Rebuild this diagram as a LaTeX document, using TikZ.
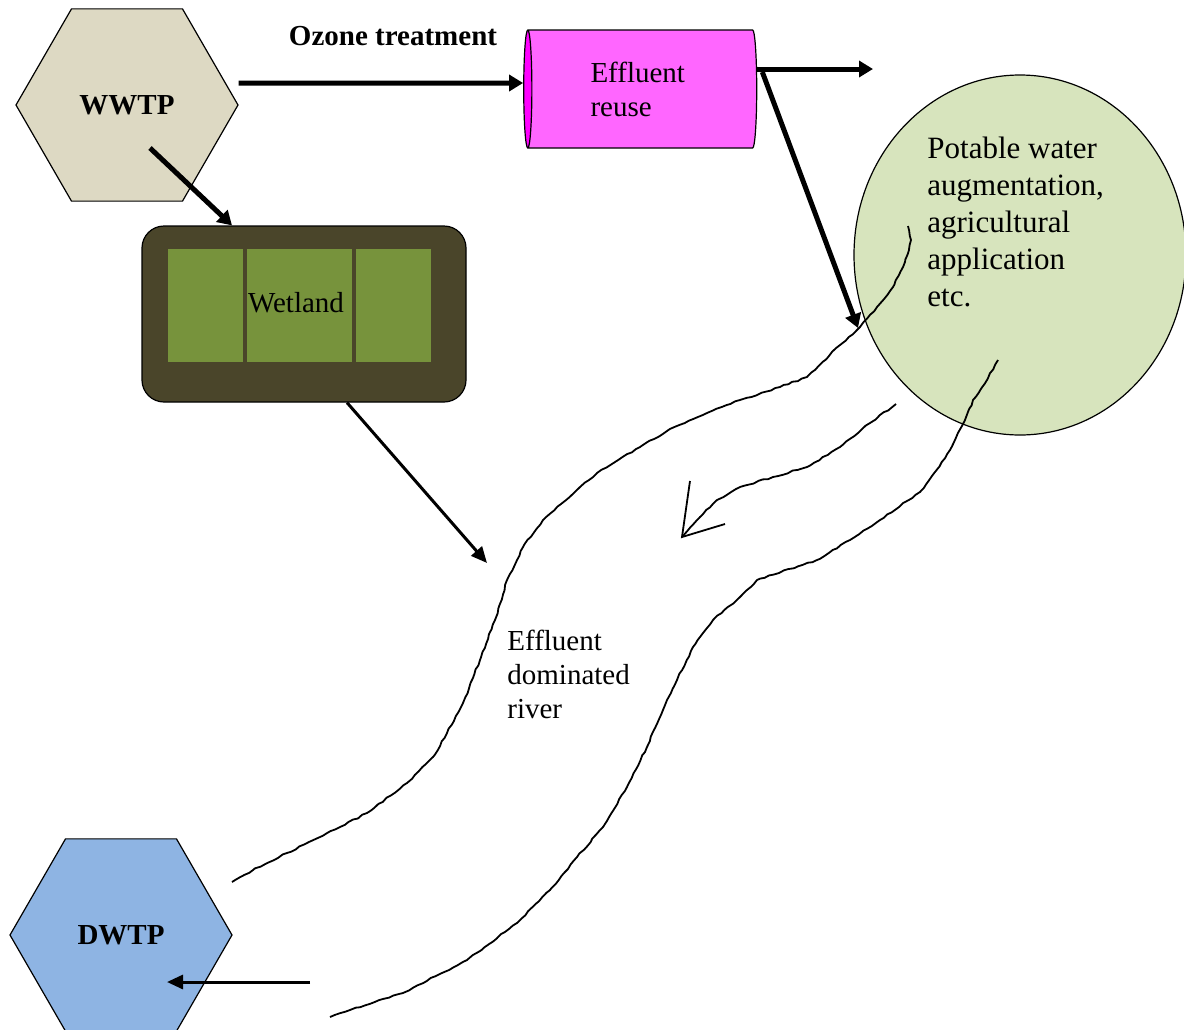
\documentclass[tikz,border=0pt]{standalone}
\usepackage{fontspec}
\setmainfont{Liberation Serif}
\usetikzlibrary{shapes.geometric,arrows.meta,calc,decorations.pathmorphing}
\definecolor{wwtpfill}{HTML}{DDD9C3}
\definecolor{dwtpfill}{HTML}{8EB4E3}
\definecolor{reusebody}{HTML}{FF66FF}
\definecolor{reuseend}{HTML}{FF00FF}
\definecolor{wetdark}{HTML}{4A452A}
\definecolor{wetgreen}{HTML}{77933C}
\definecolor{potfill}{HTML}{D7E4BD}
\tikzset{plant/.style={draw,semithick,regular polygon,regular polygon sides=6,minimum size=111pt,inner sep=0pt,font=\bfseries\fontsize{14.5}{17}\selectfont},
  fat/.style={line width=2.5pt,-{Triangle[length=7pt,width=8pt]}},
  thin/.style={line width=1.5pt,-{Triangle[length=8pt,width=7pt]}},
  bank/.style={line width=0.9pt,line join=round,decorate,decoration={random steps,segment length=2.5pt,amplitude=0.35pt}}}

\begin{document}
\begin{tikzpicture}[x=0.5pt,y=-0.5pt,font=\fontsize{14.5}{17}\selectfont]
          \useasboundingbox (0,0) rectangle (1184,1029);

          % treatment plants
          \node (ww) [plant,fill=wwtpfill] at (127,105) {WWTP};
          \node (dw) [plant,fill=dwtpfill] at (121,935) {DWTP};

          % reuse tank and potable water
          \node (er) [cylinder,draw,semithick,shape border rotate=180,aspect=0.12,minimum width=59pt,minimum height=116.5pt,
            cylinder uses custom fill,cylinder body fill=reusebody,cylinder end fill=reuseend,align=left,text width=53pt] at (643.5,89) {Effluent\\reuse};
          \node (pw) [ellipse,draw,semithick,fill=potfill,minimum width=166pt,minimum height=180pt] at (1020,255) {};
          \node (pwt) [anchor=north west,align=left,inner sep=0pt,font=\fontsize{15.5}{18.5}\selectfont] at (927,137)
            {Potable water\\augmentation,\\agricultural\\application\\etc.};

          % wetland
          \node (wl) [draw,semithick,fill=wetdark,rounded corners=11pt,minimum width=162pt,minimum height=88pt] at (304,314) {};
          \foreach \a/\b in {168/243, 247/352, 356/431}
            \fill[wetgreen] (\a,249) rectangle (\b,362);
          \node (wlt) at (296,303) {Wetland};

          % river banks
          \pgfmathsetseed{7}
          \draw[bank] (908,226) -- (911,240) -- (905,262) -- (893,287) -- (877,307) -- (860,327) -- (840,345) -- (807,377)
            -- (780,387) -- (740,400) -- (707,413) -- (667,431) -- (640,447) -- (597,473) -- (580,487) -- (543,520) -- (523,547)
            -- (507,580) -- (495,620) -- (480,660) -- (463,703) -- (447,733) -- (433,757) -- (407,783) -- (367,813) -- (340,827)
            -- (287,853) -- (253,870) -- (232,882);
          \draw[bank] (998,360) -- (987,380) -- (973,400) -- (965,420) -- (950,450) -- (935,472) -- (920,492) -- (880,520)
            -- (850,540) -- (817,560) -- (757,580) -- (740,597) -- (713,620) -- (693,647) -- (677,680) -- (667,700) -- (647,747)
            -- (627,787) -- (603,827) -- (577,857) -- (550,890) -- (517,923) -- (467,960) -- (403,993) -- (350,1010) -- (330,1017);
          \node (rvt) [anchor=north west,align=left,inner sep=0pt] at (507,630) {Effluent\\dominated\\river};

          % flow direction
          \coordinate (tip) at (682,537);
          \draw[bank] (896,404) -- (870,423) -- (840,447) -- (807,467) -- (773,477) -- (740,487) -- (717,500) -- (700,517) -- (tip);
          \draw[line width=0.9pt] (690,481) -- (tip) -- (725,524);

          % arrows
          \coordinate (out) at (873,69);
          \coordinate (rv) at (858,328);
          \coordinate (ri) at (487,563);
          \coordinate (dwin) at (310,982);
          \draw[fat] ($(ww.east)+(0,-22)$) -- ($(er.west)+(0,-6)$);
          \node (oz) [font=\bfseries\fontsize{14.5}{17}\selectfont] at (393,36) {Ozone treatment};
          \draw[fat] ($(er.east)+(0,-20)$) -- (out);
          \draw[fat] ($(er.east)+(5,-17)$) -- (rv);
          \draw[fat] ($(ww.center)+(23,43)$) -- ($(wl.north)+(-72,0)$);
          \draw[thin] ($(wl.south)+(43,0)$) -- (ri);
          \draw[thin] (dwin) -- ($(dw.center)+(46,47)$);

        \end{tikzpicture}
\end{document}
